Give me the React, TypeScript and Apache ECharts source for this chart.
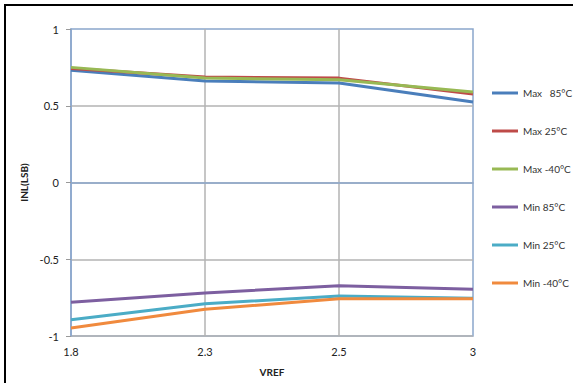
import React, { useEffect, useRef } from "react";
import * as echarts from "echarts";

const categories = ["1.8", "2.3", "2.5", "3"];
const seriesNames = ["Max   85°C", "Max 25°C", "Max -40°C", "Min 85°C", "Min 25°C", "Min -40°C"];
const max85 = [0.731, 0.661, 0.648, 0.524];
const max25 = [0.742, 0.687, 0.68, 0.577];
const maxM40 = [0.75, 0.68, 0.67, 0.589];
const min85 = [-0.78, -0.72, -0.672, -0.696];
const min25 = [-0.894, -0.79, -0.739, -0.754];
const minM40 = [-0.948, -0.826, -0.757, -0.757];
const colors = ["#4a7ebb", "#be4b48", "#98b954", "#7d5fa0", "#4bacc6", "#f08a3e"];
const yTicks = [-1, -0.5, 0, 0.5, 1];

export default function App() {
  const ref = useRef<HTMLDivElement>(null);
  useEffect(() => {
    if (!ref.current) return;
    const chart = echarts.init(ref.current, undefined, { renderer: "svg" });
    const data = [max85, max25, maxM40, min85, min25, minM40];
    const font = "Lato, 'Open Sans', sans-serif";
    chart.setOption({
      animation: false,
      color: colors,
      textStyle: { fontFamily: font },
      grid: {
        left: 71,
        right: 100,
        top: 29,
        bottom: 47,
        show: true,
        borderColor: "#8aa6cc",
        borderWidth: 1.5,
        backgroundColor: "transparent",
      },
      graphic: [
        {
          type: "rect",
          shape: { x: 5, y: 5, width: 600, height: 420 },
          style: { fill: "none", stroke: "#000", lineWidth: 2 },
          silent: true,
        },
      ],
      legend: {
        orient: "vertical",
        left: 487,
        top: 82,
        itemWidth: 26,
        itemHeight: 3,
        itemGap: 26,
        icon: "rect",
        data: seriesNames,
        textStyle: { fontSize: 10, color: "#333", lineHeight: 12, fontFamily: font },
      },
      xAxis: {
        type: "category",
        data: categories,
        boundaryGap: false,
        name: "VREF",
        nameLocation: "middle",
        nameGap: 31,
        nameTextStyle: { fontWeight: "bold", fontSize: 10, color: "#222", fontFamily: font },
        axisLine: { lineStyle: { color: "#8aa6cc", width: 1.5 } },
        axisTick: { show: false },
        axisLabel: { fontSize: 11, color: "#222", margin: 10, fontFamily: font },
        splitLine: { show: true, showMinLine: false, showMaxLine: false, lineStyle: { color: "#b3b3b3", width: 1.5 } },
      },
      yAxis: {
        type: "value",
        min: yTicks[0],
        max: yTicks[yTicks.length - 1],
        interval: 0.5,
        name: "INL(LSB)",
        nameLocation: "middle",
        nameGap: 25,
        nameTextStyle: { fontWeight: "bold", fontSize: 10, color: "#222", fontFamily: font },
        axisLine: { show: true, lineStyle: { color: "#8aa6cc", width: 1.5 } },
        axisTick: { show: true, length: 5, lineStyle: { color: "#999" } },
        axisLabel: { fontSize: 11, color: "#222", margin: 12, fontFamily: font },
        splitLine: { show: true, showMaxLine: false, lineStyle: { color: "#b3b3b3", width: 1.5 } },
      },
      series: seriesNames.map((name, i) => ({
        name,
        type: "line",
        data: data[i],
        symbol: "none",
        lineStyle: { width: 3 },
      })),
    });
    return () => chart.dispose();
  }, []);
  return (
    <div
      ref={ref}
      style={{ position: "absolute", left: 0, top: 0, width: 573, height: 383, background: "#fff" }}
    />
  );
}
